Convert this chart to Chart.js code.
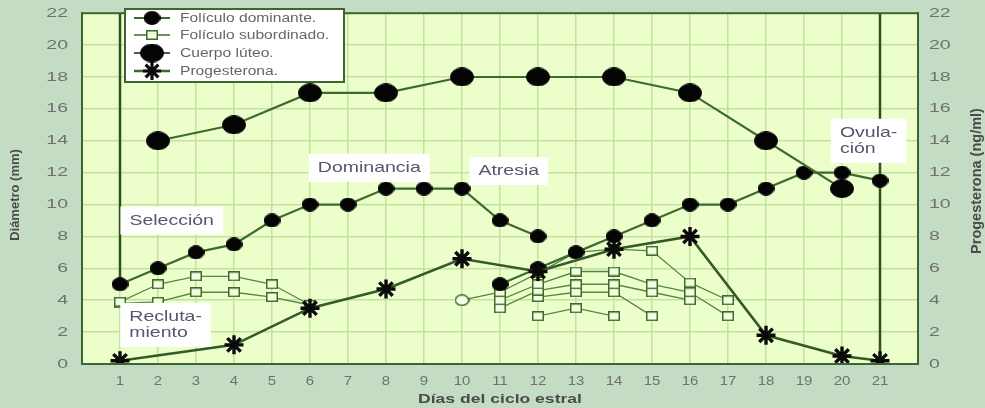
<!DOCTYPE html>
<html><head><meta charset="utf-8">
<script src="https://cdn.jsdelivr.net/npm/chart.js@4.4.1/dist/chart.umd.min.js"></script>
<style>html,body{margin:0;padding:0;background:#c5dcc4;}canvas{display:block}</style>
</head><body>
<canvas id="c" width="985" height="408"></canvas>
<script>
// ---- data ----
const xTickDays = [1,2,3,4,5,6,7,8,9,10,11,12,13,14,15,16,17,18,19,20,21];
const yTicks = [0,2,4,6,8,10,12,14,16,18,20,22];

const domDays1 = [1,2,3,4,5,6,7,8,9,10,11,12];
const domVals1 = [5,6,7,7.5,9,10,10,11,11,11,9,8];
const domDays2 = [11,12,13,14,15,16,17,18,19,20,21];
const domVals2 = [5,6,7,8,9,10,10,11,12,12,11.5];

const luteoDays = [2,4,6,8,10,12,14,16,18,20];
const luteoVals = [14,15,17,17,18,18,18,17,14,11];

const progDays = [1,4,6,8,10,12,14,16,18,20,21];
const progVals = [0.2,1.2,3.5,4.7,6.6,5.8,7.2,8,1.8,0.5,0.2];

const subADays = [1,2,3,4,5,6];        const subAVals = [3.9,5,5.5,5.5,5,3.7];
const subBDays = [1,2,3,4,5,6];        const subBVals = [3.8,3.9,4.5,4.5,4.2,3.7];
const subCDays = [10,11,12,13,14,15,16,17]; const subCVals = [4,4.5,5.7,7,7.2,7.1,5.1,4];
const subDDays = [11,12,13,14,15,16,17];    const subDVals = [4,5,5.8,5.8,5,4.5,3];
const subEDays = [11,12,13,14,15,16];       const subEVals = [3.5,4.6,5,5,4.5,4];
const subFDays = [12,13,14,15];             const subFVals = [4.2,4.5,4.5,3];
const subGDays = [12,13,14];                const subGVals = [3,3.5,3];

const markDays = [1,21];
const markFrom = [5,0];
const markTo = [22,22];

const legendLabels = ['Folículo dominante.','Folículo subordinado.','Cuerpo lúteo.','Progesterona.'];
const phaseLabels = [
  {text:['Selección'], day:2.36, val:9.0},
  {text:['Recluta-','miento'], day:2.2, val:2.45},
  {text:['Dominancia'], day:7.56, val:12.3},
  {text:['Atresia'], day:11.23, val:12.1},
  {text:['Ovula-','ción'], day:20.7, val:14.0}
];
const xTitle = 'Días del ciclo estral';
const yTitle = 'Diámetro (mm)';
const y2Title = 'Progesterona (ng/ml)';

// ---- styling ----
const LINE = '#3d6a2e';
const SUBLINE = '#5a8444';
const FONT = '"Liberation Sans", Arial, sans-serif';
const pts = (xs, ys) => xs.map((x,i)=>({x, y: ys[i]}));

function shape(kind, w, h, fill, stroke, lw){
  const c = document.createElement('canvas');
  c.width = w; c.height = h;
  const g = c.getContext('2d');
  g.fillStyle = fill; g.strokeStyle = stroke; g.lineWidth = lw;
  if (kind === 'ellipse') {
    g.beginPath(); g.ellipse(w/2, h/2, w/2 - lw/2, h/2 - lw/2, 0, 0, Math.PI*2);
    g.fill(); g.stroke();
  } else {
    g.fillRect(lw/2, lw/2, w - lw, h - lw); g.strokeRect(lw/2, lw/2, w - lw, h - lw);
  }
  return c;
}
const domImg = shape('ellipse', 17, 14, '#050505', '#050505', 1);
const lutImg = shape('ellipse', 24, 19, '#050505', '#050505', 1);
const subImg = shape('rect', 12, 10, '#f2ffdc', '#3f6a30', 1.5);
const openImg = shape('ellipse', 15, 12, '#f8ffe8', '#3f6a30', 1.6);

const subStyle = (xs, ys, firstCircle) => ({
  label: legendLabels[1], data: pts(xs, ys), yAxisID:'y', order:3,
  borderColor: SUBLINE, borderWidth: 1.3,
  pointStyle: firstCircle ? (c => c.dataIndex === 0 ? openImg : subImg) : subImg,
  pointRadius: 6
});
const domStyle = (xs, ys) => ({
  label: legendLabels[0], data: pts(xs, ys), yAxisID:'y', order:2,
  borderColor: LINE, borderWidth: 2.2, pointStyle: domImg, pointRadius: 8
});

const datasets = [
  {label: legendLabels[3], data: pts(progDays, progVals), yAxisID:'y2', order:0,
   borderColor: '#345a27', borderWidth: 2.6, pointStyle:'star', pointRadius: 9.5,
   pointBorderColor:'#0a0a0a', pointBackgroundColor:'#0a0a0a', pointBorderWidth: 3.4},
  {label: legendLabels[2], data: pts(luteoDays, luteoVals), yAxisID:'y', order:1,
   borderColor: LINE, borderWidth: 2.2, pointStyle: lutImg, pointRadius: 11},
  domStyle(domDays1, domVals1),
  domStyle(domDays2, domVals2),
  subStyle(subADays, subAVals),
  subStyle(subBDays, subBVals),
  subStyle(subCDays, subCVals, true),
  subStyle(subDDays, subDVals),
  subStyle(subEDays, subEVals),
  subStyle(subFDays, subFVals),
  subStyle(subGDays, subGVals)
];
markDays.forEach((d,i)=>{
  datasets.push({label:'marca', data:[{x:d,y:markFrom[i]},{x:d,y:markTo[i]}], yAxisID:'y', order:5,
    borderColor:'#2e5224', borderWidth:2.5, pointRadius:0});
});

function stretchText(ctx, t, x, y, sx, align){
  ctx.save(); ctx.translate(x, y); ctx.scale(sx, 1);
  ctx.textAlign = align; ctx.fillText(t, 0, 0); ctx.restore();
}

const decor = {
  id:'decor',
  beforeDraw(chart){
    const {ctx, chartArea:a} = chart;
    ctx.save();
    ctx.fillStyle = '#c5dcc4';
    ctx.fillRect(0,0,chart.width,chart.height);
    ctx.fillStyle = '#ecffcb';
    ctx.fillRect(a.left,a.top,a.right-a.left,a.bottom-a.top);
    ctx.restore();
  },
  afterDatasetsDraw(chart){
    const {ctx, chartArea:a, scales:{x,y,y2}} = chart;
    ctx.save();
    ctx.textBaseline = 'middle';
    // phase annotations
    const sxA = 1.3;
    ctx.font = '15px ' + FONT;
    phaseLabels.forEach(p=>{
      const cx = x.getPixelForValue(p.day), cy = y.getPixelForValue(p.val);
      const lh = 16;
      const tw = Math.max(...p.text.map(t=>ctx.measureText(t).width)) * sxA;
      const w = tw + 18;
      const h = p.text.length*lh + 12;
      ctx.fillStyle = '#ffffff';
      ctx.fillRect(cx - w/2, cy - h/2, w, h);
      ctx.fillStyle = '#56566c';
      p.text.forEach((t,i)=>{
        stretchText(ctx, t, cx - w/2 + 9, cy - (p.text.length-1)*lh/2 + i*lh, sxA, 'left');
      });
    });
    // frame
    ctx.strokeStyle = '#3b6630';
    ctx.lineWidth = 2;
    ctx.strokeRect(a.left, a.top, a.right-a.left, a.bottom-a.top);
    // legend
    const lx = 125, ly = 9, lw = 219, lh = 73;
    ctx.fillStyle = '#ffffff';
    ctx.fillRect(lx, ly, lw, lh);
    ctx.strokeStyle = '#3b6630';
    ctx.lineWidth = 2;
    ctx.strokeRect(lx, ly, lw, lh);
    const rows = [18, 35, 53, 71];
    const marks = [domImg, subImg, lutImg, 'star'];
    const lineW = [2.2, 1.3, 2.2, 2.4];
    ctx.font = '12px ' + FONT;
    legendLabels.forEach((t,i)=>{
      const yy = rows[i];
      ctx.strokeStyle = LINE; ctx.lineWidth = lineW[i];
      ctx.beginPath(); ctx.moveTo(134, yy); ctx.lineTo(170, yy); ctx.stroke();
      ctx.fillStyle = '#0a0a0a'; ctx.strokeStyle = '#0a0a0a'; ctx.lineWidth = 3.2;
      Chart.helpers.drawPoint(ctx, {pointStyle:marks[i], radius:9, rotation:0, borderWidth:3.2}, 152, yy);
      ctx.fillStyle = '#666666';
      stretchText(ctx, t, 180, yy + 0.5, 1.3, 'left');
    });
    // tick labels
    ctx.fillStyle = '#707070';
    ctx.font = '13px ' + FONT;
    yTicks.forEach(v=>{
      const py = y.getPixelForValue(v);
      stretchText(ctx, String(v), 68, py, 1.5, 'right');
      stretchText(ctx, String(v), 929, y2.getPixelForValue(v), 1.5, 'left');
    });
    xTickDays.forEach(v=>{
      stretchText(ctx, String(v), x.getPixelForValue(v), 381, 1.15, 'center');
    });
    // axis titles
    ctx.fillStyle = '#4a4a4a';
    ctx.font = 'bold 13px ' + FONT;
    stretchText(ctx, xTitle, (a.left + a.right)/2, 399, 1.35, 'center');
    ctx.textAlign = 'center';
    ctx.save(); ctx.translate(15, 195); ctx.rotate(-Math.PI/2); ctx.fillText(yTitle, 0, 0); ctx.restore();
    ctx.font = 'bold 14.5px ' + FONT;
    ctx.save(); ctx.translate(977, 181); ctx.rotate(-Math.PI/2); ctx.fillText(y2Title, 0, 0); ctx.restore();
    ctx.restore();
  }
};

new Chart(document.getElementById('c'), {
  type:'line',
  data:{datasets},
  options:{
    responsive:false, animation:false, devicePixelRatio:1,
    layout:{padding:{top:12,left:0,right:0,bottom:0}},
    plugins:{legend:{display:false}, tooltip:{enabled:false}},
    scales:{
      x:{type:'linear', min:0, max:22,
         afterBuildTicks: s => { s.ticks = [0, ...xTickDays, 22].map(v=>({value:v})); },
         afterFit: s => { s.height = 44; },
         ticks:{display:false},
         grid:{color:'#c4e09f', lineWidth:1.5, drawTicks:false},
         border:{color:'#3b6630', width:2}},
      y:{type:'linear', position:'left', min:0, max:22,
         afterBuildTicks: s => { s.ticks = yTicks.map(v=>({value:v})); },
         afterFit: s => { s.width = 82; },
         ticks:{display:false},
         grid:{color:'#c4e09f', lineWidth:1.5, drawTicks:false},
         border:{color:'#3b6630', width:2}},
      y2:{type:'linear', position:'right', min:0, max:22,
         afterBuildTicks: s => { s.ticks = yTicks.map(v=>({value:v})); },
         afterFit: s => { s.width = 67; },
         ticks:{display:false},
         grid:{display:false, drawTicks:false},
         border:{color:'#3b6630', width:2}}
    }
  },
  plugins:[decor]
});
</script>
</body></html>
